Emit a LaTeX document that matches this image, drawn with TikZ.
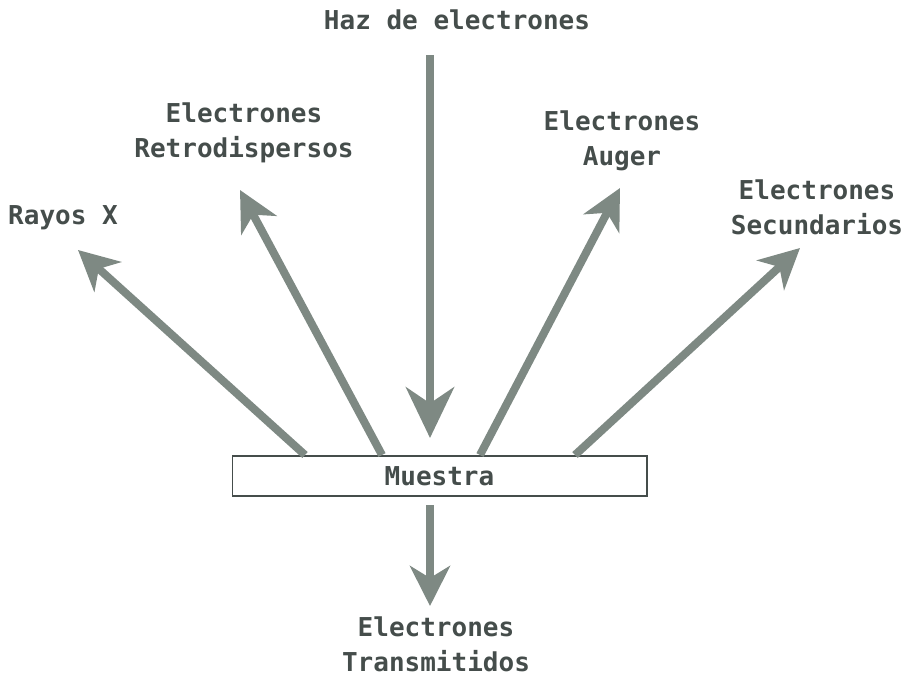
\documentclass[tikz,border=0pt]{standalone}
\usepackage{fontspec}
\setmonofont{DejaVu Sans Mono}
\usetikzlibrary{arrows.meta,positioning}
\definecolor{ray}{HTML}{7E8983}
\definecolor{ink}{HTML}{454D4B}

\tikzset{
  lbl/.style={font=\ttfamily\bfseries\fontsize{19.5}{26}\selectfont,text=ink,align=center,inner sep=0pt},
  beam/.style={draw=ray,line width=6pt,-{Stealth[length=30pt,width=30pt,inset=9pt]}},
  bighead/.style={-{Stealth[length=38pt,width=36pt,inset=12pt]}},
}

\begin{document}
\begin{tikzpicture}[x=0.75pt,y=-0.75pt]
\useasboundingbox (0,0) rectangle (913,678);
% sample
\node[draw=ink,line width=1pt,minimum width=311pt,minimum height=30pt,lbl,inner sep=0pt] (muestra) at (439.5,476) {Muestra};
% labels
\node[lbl] (haz) at (457,20) {Haz de electrones};
\node[lbl] (retro) at (244,133) {Electrones\\Retrodispersos};
\node[lbl] (auger) at (622,141) {Electrones\\Auger};
\node[lbl] (rayos) at (63,218) {Rayos X};
\node[lbl] (secund) at (817,207) {Electrones\\Secundarios};
\node[lbl] (trans) at (436,644) {Electrones\\Transmitidos};
% ends of the beams
\coordinate (hazA) at (430,55);
\coordinate (hazB) at (430,438);
\coordinate (rayA) at (305,455);
\coordinate (rayB) at (78,250);
\coordinate (retA) at (382,455);
\coordinate (retB) at (240,190);
\coordinate (augA) at (480,455);
\coordinate (augB) at (620,188);
\coordinate (secA) at (575,455);
\coordinate (secB) at (800,248);
\coordinate (traA) at (430,505);
\coordinate (traB) at (430,606);
% beams
\draw[beam,bighead] (hazA) -- (hazB);
\draw[beam] (rayA) -- (rayB);
\draw[beam] (retA) -- (retB);
\draw[beam] (augA) -- (augB);
\draw[beam] (secA) -- (secB);
\draw[beam] (traA) -- (traB);
\end{tikzpicture}
\end{document}
